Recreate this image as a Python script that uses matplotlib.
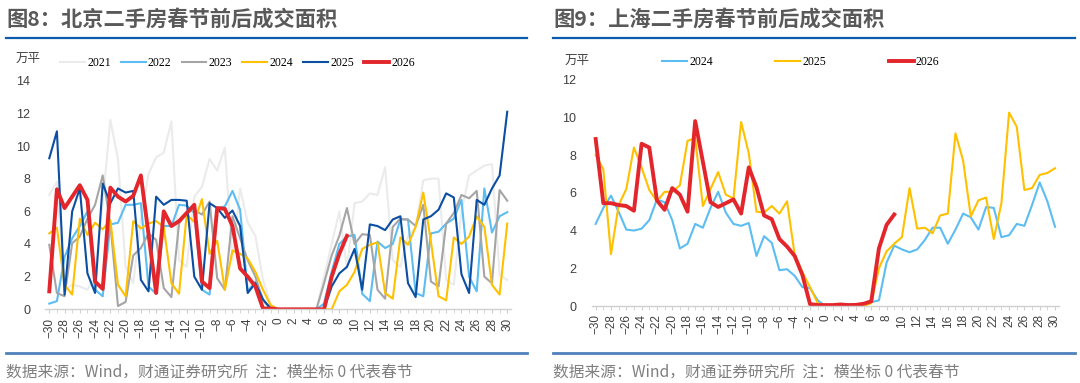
import numpy as np
import matplotlib as mplt
mplt.use("Agg")
import matplotlib.pyplot as plt
from matplotlib.ticker import MultipleLocator

plt.rcParams['font.family'] = ['Noto Sans CJK SC', 'DejaVu Sans']
plt.rcParams['axes.unicode_minus'] = True

days = np.arange(-30, 31)
days_2026 = np.arange(-30, 10)

# 北京 (万平)
bj_2021 = [7.0, 7.8, 1.2, 1.5, 1.4, 1.2, 2.0, 6.5, 11.6, 9.2,
           2.6, 1.6, 5.5, 8.3, 9.3, 9.6, 11.5, 3.0, 2.6, 6.9,
           7.5, 9.2, 8.5, 9.9, 3.0, 7.4, 5.3, 4.5, 1.8, 0.3,
           0, 0, 0, 0, 0, 0,
           2.0, 4.0, 6.0, 2.5, 6.5, 6.6, 7.1, 7.0, 8.7, 3.0,
           2.6, 4.5, 5.0, 7.9, 8.0, 8.0, 1.8, 1.5, 6.0, 8.2,
           8.5, 8.8, 8.9, 2.1, 1.8]
bj_2022 = [0.35, 0.5, 3.2, 4.35, 5.1, 6.0, 1.2, 0.8, 5.2, 5.3,
           6.4, 6.4, 6.5, 1.4, 0.95, 5.1, 5.1, 6.4, 6.35, 5.9,
           1.2, 0.9, 6.2, 6.3, 7.25, 6.1, 1.1, 1.7, 0.6, 0.05,
           0, 0, 0, 0, 0, 0,
           0.35, 2.3, 4.0, 4.45, 4.55, 0.95, 0.5, 4.15, 3.75, 4.0,
           5.5, 5.5, 1.0, 0.8, 4.65, 4.75, 5.25, 5.55, 6.7, 2.0,
           1.1, 7.4, 4.7, 5.7, 5.95]
bj_2023 = [3.95, 1.0, 0.8, 4.05, 4.45, 5.55, 6.4, 8.2, 5.25, 0.2,
           0.45, 3.3, 3.75, 4.65, 4.25, 1.3, 0.75, 5.25, 5.9, 6.1,
           5.8, 6.6, 1.9, 1.2, 5.7, 4.35, 3.0, 2.0, 0.55, 0.05,
           0, 0, 0, 0, 0, 0,
           1.6, 3.3, 4.5, 6.2, 4.0, 4.6, 4.55, 1.2, 0.65, 5.05,
           5.55, 5.5, 5.1, 6.4, 1.7, 1.4, 5.25, 5.9, 7.0, 6.8,
           7.25, 2.0, 1.6, 7.3, 6.65]
bj_2024 = [4.65, 5.0, 1.5, 0.9, 5.55, 4.55, 5.3, 4.9, 5.45, 1.5,
           0.8, 5.4, 4.95, 5.25, 5.4, 5.05, 1.6, 0.95, 5.8, 5.35,
           6.75, 3.4, 4.2, 1.2, 3.6, 3.4, 3.1, 2.3, 1.2, 0.25,
           0, 0, 0, 0, 0, 0,
           0, 0, 1.1, 1.5, 2.3, 3.7, 3.95, 4.1, 1.0, 0.65,
           4.4, 3.95, 5.05, 7.15, 4.15, 0.8, 0.55, 4.4, 4.0, 4.45,
           5.7, 5.05, 1.5, 0.9, 5.25]
bj_2025 = [9.25, 10.9, 0.9, 6.0, 7.4, 2.2, 1.0, 7.7, 6.5, 7.4,
           7.15, 7.25, 1.8, 1.1, 6.9, 6.4, 6.7, 6.7, 6.65, 2.0,
           1.2, 6.5, 6.2, 5.6, 6.05, 5.1, 1.0, 1.6, 0.6, 0.05,
           0, 0, 0, 0, 0, 0,
           0, 1.4, 2.2, 2.6, 3.7, 1.2, 5.2, 5.1, 4.85, 5.5,
           5.7, 1.6, 0.75, 5.5, 5.7, 6.1, 7.1, 6.85, 2.15, 1.0,
           6.7, 6.4, 7.4, 8.2, 12.1]
bj_2026 = [1.1, 7.35, 6.2, 6.9, 7.6, 6.7, 1.7, 1.25, 7.45, 6.9,
           6.6, 6.95, 8.2, 4.6, 1.0, 6.0, 5.1, 5.4, 5.9, 6.4,
           1.7, 1.3, 6.2, 6.15, 5.1, 2.5, 2.0, 1.4, 0.05, 0.05,
           0, 0, 0, 0, 0, 0, 0, 2.0, 3.4, 4.5]

# 上海 (万平)
sh_2024 = [4.35, 5.2, 5.85, 5.0, 4.05, 4.0, 4.1, 4.55, 5.65, 5.5,
           4.55, 3.05, 3.3, 4.35, 4.15, 5.2, 6.05, 4.95, 4.35, 4.25,
           4.4, 2.65, 3.7, 3.35, 1.9, 1.95, 1.6, 1.0, 0.95, 0.3,
           0, 0, 0, 0, 0, 0,
           0.2, 0.3, 2.3, 3.2, 3.0, 2.85, 3.0, 3.5, 4.15, 4.15,
           3.3, 4.05, 4.9, 4.7, 4.05, 5.25, 5.2, 3.65, 3.75, 4.35,
           4.25, 5.35, 6.55, 5.55, 4.2]
sh_2025 = [8.0, 7.25, 2.75, 5.35, 6.2, 8.4, 7.35, 6.15, 5.55, 6.05,
           6.05, 6.4, 8.75, 8.9, 5.3, 6.2, 7.1, 5.9, 5.7, 9.75,
           8.1, 5.0, 4.95, 5.3, 4.9, 5.55, 2.7, 1.8, 1.0, 0.15,
           0, 0, 0, 0, 0, 0,
           0.15, 2.0, 2.9, 3.3, 3.65, 6.25, 4.1, 4.15, 3.85, 4.8,
           4.9, 9.15, 7.7, 4.75, 5.6, 5.75, 3.55, 5.45, 10.25, 9.5,
           6.15, 6.25, 6.95, 7.05, 7.3]
sh_2026 = [8.85, 5.45, 5.45, 5.35, 5.3, 5.05, 8.6, 8.4, 5.6, 5.1,
           6.25, 5.9, 5.0, 9.8, 7.65, 5.5, 5.25, 5.45, 5.65, 4.9,
           7.35, 6.3, 4.8, 4.6, 3.55, 3.15, 2.65, 1.65, 0.1, 0.05,
           0.05, 0.05, 0.08, 0.05, 0.06, 0.12, 0.25, 3.05, 4.3, 4.85]

colors = {
    "2021": "#ebebeb",
    "2022": "#5cbdf3",
    "2023": "#a5a5a5",
    "2024": "#ffc000",
    "2025": "#0b4ea2",
    "2026": "#e3262b",
}

fig = plt.figure(figsize=(10.8, 3.83), dpi=100)
ax_bj = fig.add_axes([0.0421, 0.1924, 0.4311, 0.5969])
ax_sh = fig.add_axes([0.5480, 0.2010, 0.4324, 0.5912])

for yr, vals in [("2021", bj_2021), ("2022", bj_2022), ("2023", bj_2023),
                 ("2024", bj_2024), ("2025", bj_2025)]:
    ax_bj.plot(days, vals, color=colors[yr], lw=1.5, label=yr)
ax_bj.plot(days_2026, bj_2026, color=colors["2026"], lw=2.8, label="2026")

ax_sh.plot(days, sh_2024, color=colors["2022"], lw=1.5, label="2024")
ax_sh.plot(days, sh_2025, color=colors["2024"], lw=1.5, label="2025")
ax_sh.plot(days_2026, sh_2026, color=colors["2026"], lw=2.8, label="2026")

for _ax, ytop in [(ax_bj, 14), (ax_sh, 12)]:
    _ax.set_xlim(-30.5, 30.5)
    _ax.set_ylim(0, ytop)
    _ax.set_yticks(np.arange(0, ytop + 1, 2))
    _ax.set_xticks(np.arange(-30, 31, 2))
    _ax.xaxis.set_minor_locator(MultipleLocator(1))
    for s in ["top", "right", "left"]:
        _ax.spines[s].set_visible(False)
    _ax.spines["bottom"].set_color("#d0d0d0")
    _ax.spines["bottom"].set_linewidth(1.0)
    _ax.tick_params(axis="y", length=0, pad=11, labelsize=9, labelcolor="#404040")
    _ax.tick_params(axis="x", which="both", length=3, color="#d0d0d0", pad=3,
                    labelsize=8.5, labelcolor="#404040", labelrotation=90)
    for lab in _ax.get_xticklabels() + _ax.get_yticklabels():
        lab.set_family(["Liberation Sans", "DejaVu Sans"])

# 图题与分隔线
fig.text(6 / 1080, 1 - 19 / 383, "图8：北京二手房春节前后成交面积", fontsize=15.3,
         color="#595959", fontweight="bold", va="center", ha="left")
fig.text(553 / 1080, 1 - 19 / 383, "图9：上海二手房春节前后成交面积", fontsize=15.3,
         color="#595959", fontweight="bold", va="center", ha="left")
src = "数据来源：Wind，财通证券研究所  注：横坐标 0 代表春节"
fig.text(6 / 1080, 1 - 372 / 383, src, fontsize=11.3, color="#7f7f7f", va="center", ha="left")
fig.text(553 / 1080, 1 - 372 / 383, src, fontsize=11.3, color="#7f7f7f", va="center", ha="left")

for x0, x1 in [(6, 527), (553, 1075)]:
    fig.add_artist(plt.Line2D([x0 / 1080, x1 / 1080], [1 - 38 / 383] * 2,
                              color="#0c5cad", lw=1.6))
    fig.add_artist(plt.Line2D([x0 / 1080, x1 / 1080], [1 - 352.5 / 383] * 2,
                              color="#4f81bd", lw=2.0))

fig.text(28 / 1080, 1 - 58 / 383, "万平", fontsize=9, color="#404040", ha="center", va="center")
fig.text(577 / 1080, 1 - 60 / 383, "万平", fontsize=9, color="#404040", ha="center", va="center")

leg_font = {"family": "Liberation Serif", "size": 8.5}
fig.legend(handles=ax_bj.get_lines(), loc="center left", bbox_to_anchor=(60 / 1080, 1 - 63 / 383),
           ncol=6, frameon=False, prop=leg_font, handlelength=2.1, handletextpad=0.2,
           columnspacing=0.85, borderpad=0, borderaxespad=0)
fig.legend(handles=ax_sh.get_lines(), loc="center left", bbox_to_anchor=(662 / 1080, 1 - 62 / 383),
           ncol=3, frameon=False, prop=leg_font, handlelength=2.1, handletextpad=0.2,
           columnspacing=5.3, borderpad=0, borderaxespad=0)

fig.savefig("out.png", dpi=100)
